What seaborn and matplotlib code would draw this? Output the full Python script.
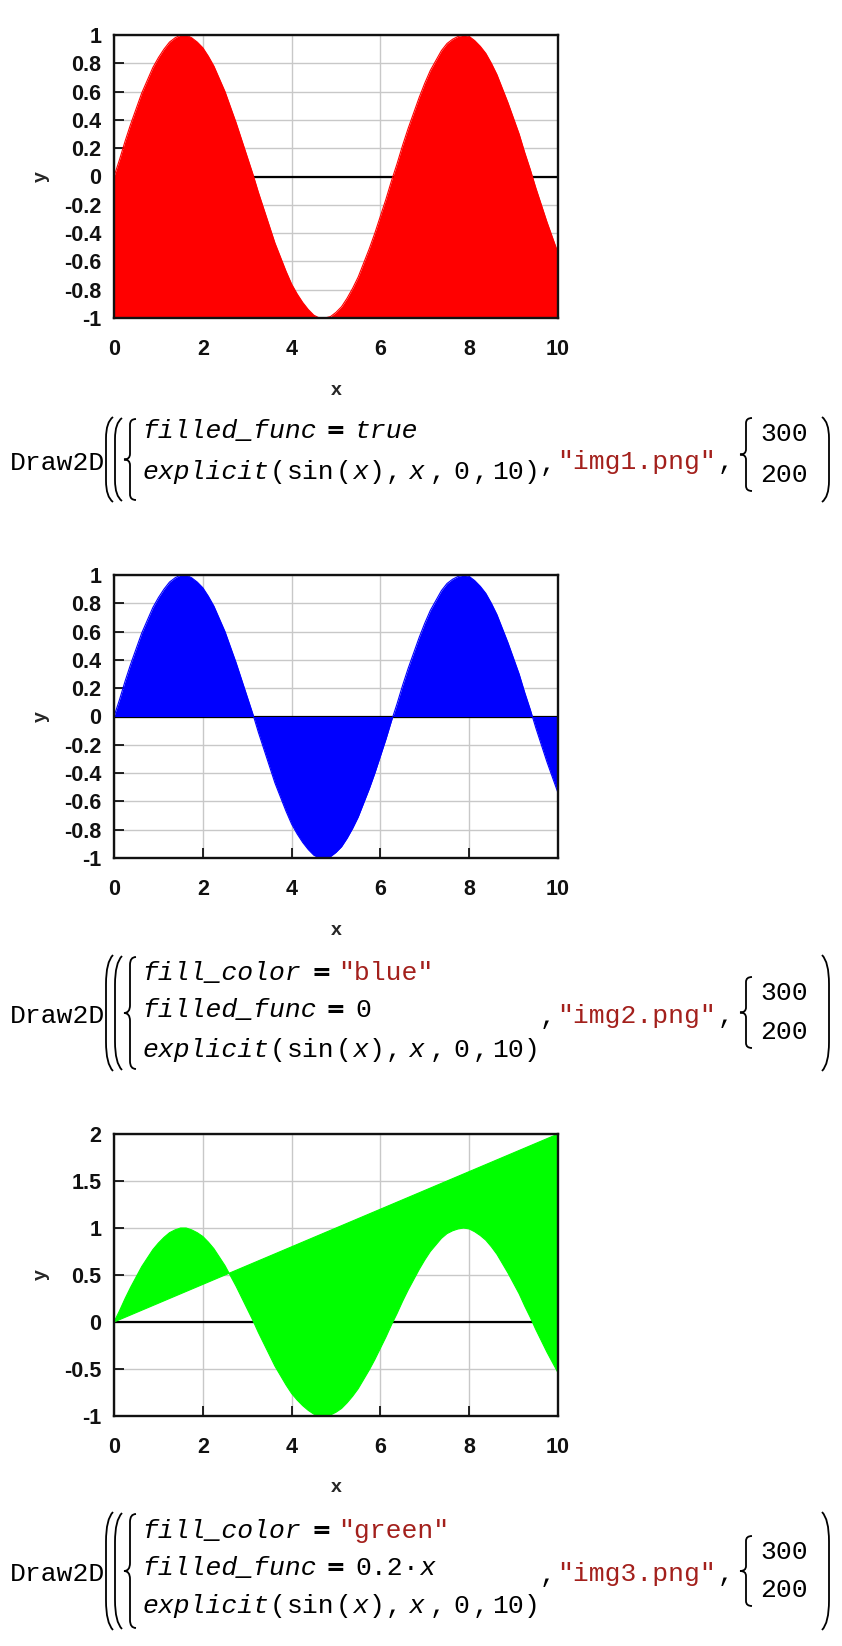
import numpy as np
import matplotlib
matplotlib.use("Agg")
import matplotlib.pyplot as plt
import seaborn as sns
from matplotlib.path import Path
from matplotlib.patches import PathPatch

# ---------------- data ----------------
x_vals = [0.0, 0.125, 0.25, 0.375, 0.5, 0.625, 0.75, 0.875, 1.0, 1.125, 1.25, 1.375,
          1.5, 1.625, 1.75, 1.875, 2.0, 2.125, 2.25, 2.375, 2.5, 2.625, 2.75, 2.875,
          3.0, 3.125, 3.25, 3.375, 3.5, 3.625, 3.75, 3.875, 4.0, 4.125, 4.25, 4.375,
          4.5, 4.625, 4.75, 4.875, 5.0, 5.125, 5.25, 5.375, 5.5, 5.625, 5.75, 5.875,
          6.0, 6.125, 6.25, 6.375, 6.5, 6.625, 6.75, 6.875, 7.0, 7.125, 7.25, 7.375,
          7.5, 7.625, 7.75, 7.875, 8.0, 8.125, 8.25, 8.375, 8.5, 8.625, 8.75, 8.875,
          9.0, 9.125, 9.25, 9.375, 9.5, 9.625, 9.75, 9.875, 10.0]
sin_vals = [0.00, 0.12, 0.25, 0.37, 0.48, 0.59, 0.68, 0.77, 0.84, 0.90, 0.95, 0.98,
            1.00, 1.00, 0.98, 0.95, 0.91, 0.85, 0.78, 0.69, 0.60, 0.49, 0.38, 0.26,
            0.14, 0.02, -0.11, -0.23, -0.35, -0.47, -0.57, -0.67, -0.76, -0.83, -0.89, -0.94,
            -0.98, -1.00, -1.00, -0.99, -0.96, -0.92, -0.86, -0.79, -0.71, -0.61, -0.51, -0.40,
            -0.28, -0.16, -0.03, 0.09, 0.22, 0.34, 0.45, 0.56, 0.66, 0.75, 0.82, 0.89,
            0.94, 0.97, 0.99, 1.00, 0.99, 0.96, 0.92, 0.87, 0.80, 0.72, 0.62, 0.52,
            0.41, 0.30, 0.17, 0.05, -0.08, -0.20, -0.32, -0.43, -0.54]
line_x = [0.0, 10.0]
line_y = [0.0, 2.0]
fill_base_1 = -1.0        # filled_func = true -> fill down to bottom
fill_base_2 = 0.0         # filled_func = 0

x_ticks = [0, 2, 4, 6, 8, 10]
x_tick_labels = ["0", "2", "4", "6", "8", "10"]
y_ticks_sin = [-1, -0.8, -0.6, -0.4, -0.2, 0, 0.2, 0.4, 0.6, 0.8, 1]
y_tick_labels_sin = ["-1", "-0.8", "-0.6", "-0.4", "-0.2", "0", "0.2", "0.4",
                     "0.6", "0.8", "1"]
y_ticks_3 = [-1, -0.5, 0, 0.5, 1, 1.5, 2]
y_tick_labels_3 = ["-1", "-0.5", "0", "0.5", "1", "1.5", "2"]

fill_colors = ["#ff0000", "#0000ff", "#00ff00"]
img_names = ['"img1.png"', '"img2.png"', '"img3.png"']
size_vals = ["300", "200"]

# ---------------- figure ----------------
sns.set_theme(style="white")
plt.rcParams["font.family"] = ["Liberation Sans", "DejaVu Sans"]

W, H = 842, 1646
fig = plt.figure(figsize=(W / 100, H / 100), dpi=100)
fig.patch.set_facecolor("white")

TICK_FONT = dict(family=["Liberation Sans", "DejaVu Sans"], weight="bold", size=15.5)


def make_axes(top, bottom, left=114, right=558):
    return fig.add_axes([left / W, 1 - bottom / H, (right - left) / W, (bottom - top) / H])


def style_axes(ax, yticks, ylabels, ylim):
    ax.set_xlim(0, 10)
    ax.set_ylim(*ylim)
    ax.set_xticks(x_ticks)
    ax.set_xticklabels(x_tick_labels, fontdict=TICK_FONT)
    ax.set_yticks(yticks)
    ax.set_yticklabels(ylabels, fontdict=TICK_FONT)
    ax.grid(True, color="#c8c8c8", lw=1.0)
    ax.set_axisbelow(True)
    ax.tick_params(axis="both", which="both", direction="in", length=7, width=1.2,
                   color="black", left=True, bottom=True, right=False, top=False,
                   labelcolor="#111111")
    ax.tick_params(axis="x", pad=15)
    ax.tick_params(axis="y", pad=9)
    for sp in ax.spines.values():
        sp.set_visible(True)
        sp.set_color("#111111")
        sp.set_linewidth(1.7)
        sp.set_zorder(5)
    ax.set_xlabel("x", fontdict=dict(family=["Liberation Sans"], weight="bold", size=14))
    ax.set_ylabel("y", fontdict=dict(family=["Liberation Sans"], weight="bold", size=14))
    ax.xaxis.set_label_coords(0.5, -0.255)
    ax.xaxis.label.set_va("center")
    ax.yaxis.set_label_coords(-0.164, 0.5)
    ax.yaxis.label.set_va("center")
    ax.axhline(0, color="black", lw=1.6, zorder=1.5)
    ax.set_facecolor("white")


# Plot 1: filled to bottom, red
ax1 = make_axes(35, 318)
style_axes(ax1, y_ticks_sin, y_tick_labels_sin, (-1, 1))
ax1.fill_between(x_vals, sin_vals, fill_base_1, color=fill_colors[0], lw=0, zorder=2)
sns.lineplot(x=x_vals, y=sin_vals, ax=ax1, color=fill_colors[0], lw=0.8, zorder=2.1)

# Plot 2: filled to 0, blue
ax2 = make_axes(575, 858)
style_axes(ax2, y_ticks_sin, y_tick_labels_sin, (-1, 1))
ax2.fill_between(x_vals, sin_vals, fill_base_2, color=fill_colors[1], lw=0, zorder=2)
sns.lineplot(x=x_vals, y=sin_vals, ax=ax2, color=fill_colors[1], lw=0.8, zorder=2.1)

# Plot 3: filled between sin and 0.2x, green
ax3 = make_axes(1134, 1416)
style_axes(ax3, y_ticks_3, y_tick_labels_3, (-1, 2))
poly_x = list(x_vals) + line_x[::-1]
poly_y = list(sin_vals) + line_y[::-1]
ax3.fill(poly_x, poly_y, color=fill_colors[2], lw=0, zorder=2)
sns.lineplot(x=x_vals, y=sin_vals, ax=ax3, color=fill_colors[2], lw=0.8, zorder=2.1)
sns.lineplot(x=line_x, y=line_y, ax=ax3, color=fill_colors[2], lw=0.8, zorder=2.1)

for ax in (ax1, ax2, ax3):
    if ax.get_legend() is not None:
        ax.get_legend().remove()

# ---------------- formula text ----------------
MONO = ["Liberation Mono", "DejaVu Sans Mono"]
FS = 19
RED = "#a3201c"


def T(px, py, s, italic=False, bold=False, color="black", size=FS, family=None):
    fig.text(px / W, 1 - py / H, s, ha="left", va="center",
             family=family if family else MONO,
             style="italic" if italic else "normal",
             weight="bold" if bold else "normal", color=color, size=size)


def EQ(px, py):
    T(px, py, "=", bold=True, size=17, family=["DejaVu Sans"])


def add_path(verts, codes, lw=1.3):
    vv = [(vx / W, 1 - vy / H) for vx, vy in verts]
    p = PathPatch(Path(vv, codes), transform=fig.transFigure, fill=False,
                  lw=lw, color="black")
    fig.add_artist(p)


def lparen(x0, x1, y0, y1):
    h = y1 - y0
    add_path([(x1, y0), (x0, y0 + 0.06 * h), (x0, y0 + 0.25 * h),
              (x0, y1 - 0.25 * h), (x0, y1 - 0.06 * h), (x1, y1)],
             [Path.MOVETO, Path.CURVE3, Path.CURVE3, Path.LINETO, Path.CURVE3, Path.CURVE3])


def rparen(x0, x1, y0, y1):
    h = y1 - y0
    add_path([(x0, y0), (x1, y0 + 0.06 * h), (x1, y0 + 0.25 * h),
              (x1, y1 - 0.25 * h), (x1, y1 - 0.06 * h), (x0, y1)],
             [Path.MOVETO, Path.CURVE3, Path.CURVE3, Path.LINETO, Path.CURVE3, Path.CURVE3])


def lbrace(x0, x1, y0, y1):
    h = y1 - y0
    xm = (x0 + x1) / 2
    ym = (y0 + y1) / 2
    d = 0.07 * h
    add_path([(x1, y0), (xm, y0), (xm, y0 + d), (xm, ym - d), (xm, ym), (x0, ym),
              (xm, ym), (xm, ym + d), (xm, y1 - d), (xm, y1), (x1, y1)],
             [Path.MOVETO, Path.CURVE3, Path.CURVE3, Path.LINETO, Path.CURVE3, Path.CURVE3,
              Path.CURVE3, Path.CURVE3, Path.LINETO, Path.CURVE3, Path.CURVE3])


def explicit_line(py):
    T(142, py, "explicit", italic=True)
    T(270, py, "(")
    T(287, py, "sin")
    T(336, py, "(")
    T(352, py, "x", italic=True)
    T(369, py, ")")
    T(386, py, ",")
    T(408, py, "x", italic=True)
    T(430, py, ",")
    T(453, py, "0")
    T(473, py, ",")
    T(492, py, "10")
    T(524, py, ")")


def block(rows, top, bottom, name, size_rows):
    mid = (top + bottom) / 2
    T(10, mid + 3, "Draw2D")
    lparen(106, 113, top, bottom)
    lparen(115, 122, top + 1, bottom - 1)
    lbrace(124, 136, top + 2, bottom - 2)
    rows()
    T(540, mid + 4, ",")
    T(557, mid + 3, name, color=RED)
    T(718, mid + 3, ",")
    lbrace(740, 752, size_rows[0] - 16, size_rows[1] + 16)
    T(760, size_rows[0], size_vals[0])
    T(760, size_rows[1], size_vals[1])
    rparen(822, 829, top, bottom)


def rows1():
    T(142, 431, "filled_func", italic=True)
    EQ(326, 431)
    T(355, 431, "true", italic=True)
    explicit_line(472)


def rows2():
    T(142, 973, "fill_color", italic=True)
    EQ(311, 973)
    T(338, 973, '"blue"', color=RED)
    T(142, 1010, "filled_func", italic=True)
    EQ(326, 1010)
    T(355, 1010, "0")
    explicit_line(1050)


def rows3():
    T(142, 1531, "fill_color", italic=True)
    EQ(311, 1531)
    T(338, 1531, '"green"', color=RED)
    T(142, 1568, "filled_func", italic=True)
    EQ(326, 1568)
    T(355, 1568, "0.2")
    T(403, 1568, "·")
    T(419, 1568, "x", italic=True)
    explicit_line(1606)


block(rows1, 417, 502, img_names[0], (434, 475))
block(rows2, 955, 1071, img_names[1], (993, 1032))
block(rows3, 1512, 1630, img_names[2], (1552, 1590))

fig.savefig("out.png", dpi=100, facecolor="white")
